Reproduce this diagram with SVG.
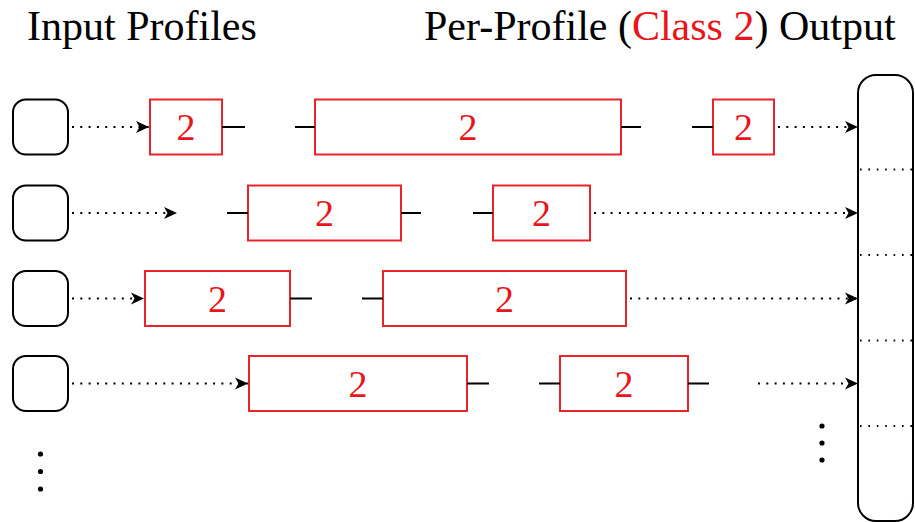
<svg xmlns="http://www.w3.org/2000/svg" width="915" height="522" viewBox="0 0 915 522">
  <style>
    .title { font-family: "Liberation Serif", "DejaVu Serif", serif; font-size: 42px; fill: #000; }
    .red { fill: #e8161b; }
    .inp { fill: #fff; stroke: #000; stroke-width: 2; }
    .seg { fill: #fff; stroke: #e8262a; stroke-width: 2; }
    .num { font-family: "Liberation Serif", "DejaVu Serif", serif; font-size: 38px; fill: #e8161b; text-anchor: middle; }
    .dot { stroke: #000; stroke-width: 2.2; stroke-dasharray: 2 6.3; fill: none; }
    .arr { marker-end: url(#head); }
    .tick { stroke: #000; stroke-width: 2; fill: none; }
    .out { fill: #fff; stroke: #000; stroke-width: 2; }
    .sep { stroke: #000; stroke-width: 1.8; stroke-dasharray: 1.6 6.8; fill: none; }
  </style>
  <defs>
    <marker id="head" markerUnits="userSpaceOnUse" markerWidth="16" markerHeight="14" refX="14" refY="7" orient="auto">
      <path d="M1,1 L14,7 L1,13 L4.5,7 Z" fill="#000"/>
    </marker>
  </defs>

  <text class="title" x="27" y="40">Input Profiles</text>
  <text class="title" x="424" y="40">Per-Profile (<tspan class="red">Class 2</tspan>) Output</text>

  <!-- input profile nodes -->
  <g id="in1"><rect class="inp" x="13" y="99.5" width="55" height="55" rx="13"/></g>
  <g id="in2"><rect class="inp" x="13" y="185.5" width="55" height="55" rx="13"/></g>
  <g id="in3"><rect class="inp" x="13" y="271" width="55" height="55" rx="13"/></g>
  <g id="in4"><rect class="inp" x="13" y="356" width="55" height="55" rx="13"/></g>

  <!-- output column -->
  <g id="output">
    <rect class="out" x="858" y="75" width="55" height="446" rx="18"/>
    <path class="sep" d="M860,169.5 H913 M860,255 H913 M860,340.5 H913 M860,426 H913"/>
  </g>

  <!-- class 2 segments -->
  <g id="r1s1"><rect class="seg" x="150" y="99.5" width="72" height="55"/><text class="num" x="186" y="140">2</text></g>
  <g id="r1s2"><rect class="seg" x="315" y="99.5" width="306" height="55"/><text class="num" x="468" y="140">2</text></g>
  <g id="r1s3"><rect class="seg" x="713" y="99.5" width="61" height="55"/><text class="num" x="743.5" y="140">2</text></g>

  <g id="r2s1"><rect class="seg" x="248" y="185.5" width="153" height="55"/><text class="num" x="324.5" y="226">2</text></g>
  <g id="r2s2"><rect class="seg" x="493" y="185.5" width="97" height="55"/><text class="num" x="541.5" y="226">2</text></g>

  <g id="r3s1"><rect class="seg" x="145" y="271" width="145" height="55"/><text class="num" x="217.5" y="311.5">2</text></g>
  <g id="r3s2"><rect class="seg" x="383" y="271" width="243" height="55"/><text class="num" x="504.5" y="311.5">2</text></g>

  <g id="r4s1"><rect class="seg" x="249" y="356" width="218" height="55"/><text class="num" x="358" y="396.5">2</text></g>
  <g id="r4s2"><rect class="seg" x="560" y="356" width="128" height="55"/><text class="num" x="624" y="396.5">2</text></g>

  <!-- connectors -->
  <g id="connectors">
    <!-- row 1 -->
    <path class="dot arr" d="M72,127 H149"/>
    <path class="tick" d="M222,127 H245 M295,127 H315 M621,127 H641 M692,127 H713"/>
    <path class="dot arr" d="M778,127 H858"/>
    <!-- row 2 -->
    <path class="dot arr" d="M72,213 H177"/>
    <path class="tick" d="M227,213 H248 M401,213 H421 M473,213 H493"/>
    <path class="dot arr" d="M594,213 H858"/>
    <!-- row 3 -->
    <path class="dot arr" d="M72,298.5 H144"/>
    <path class="tick" d="M290,298.5 H312 M362,298.5 H383"/>
    <path class="dot arr" d="M630,298.5 H858"/>
    <!-- row 4 -->
    <path class="dot arr" d="M72,383.5 H248"/>
    <path class="tick" d="M467,383.5 H489 M539,383.5 H560 M688,383.5 H709"/>
    <path class="dot arr" d="M758,383.5 H858"/>
  </g>

  <!-- continuation marks -->
  <g id="more-inputs" fill="#000">
    <circle cx="40.5" cy="454" r="2.6"/>
    <circle cx="40.5" cy="471.5" r="2.6"/>
    <circle cx="40.5" cy="489" r="2.6"/>
  </g>
  <g id="more-outputs" fill="#000">
    <circle cx="822" cy="426" r="2.6"/>
    <circle cx="822" cy="443" r="2.6"/>
    <circle cx="822" cy="460" r="2.6"/>
  </g>
</svg>
